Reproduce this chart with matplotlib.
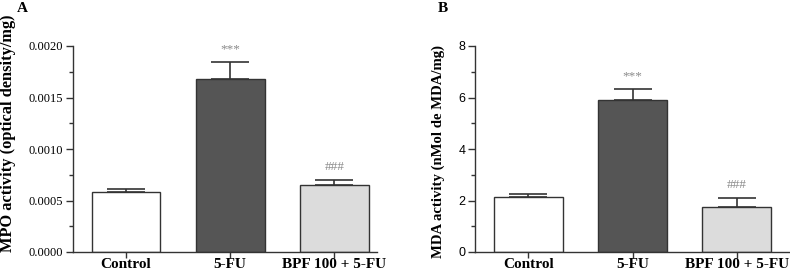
import numpy as np
import matplotlib
matplotlib.use("Agg")
import matplotlib.pyplot as plt
from matplotlib.ticker import MultipleLocator, FormatStrFormatter

# Datos
grupos = ["Control", "5-FU", "BPF 100 + 5-FU"]
mpo = [0.00058, 0.00168, 0.00065]
mpo_err = [0.00003, 0.00016, 0.00005]
mda = [2.12, 5.92, 1.75]
mda_err = [0.12, 0.40, 0.33]
marcas = ["", "***", "###"]

colores = ["#ffffff", "#555555", "#dcdcdc"]
borde = "#333333"
serif = "Liberation Serif"
sans = "Liberation Sans"

fig = plt.figure(figsize=(7.9, 2.74), dpi=100)
axA = fig.add_axes([73/790, 1-252/274, 304/790, 206/274])
axB = fig.add_axes([475/790, 1-252/274, 315/790, 206/274])

def panel(ax, vals, errs, ymax, major, minor, fmt, ylabel, tickfont, xright, labpos, labsize):
    x = np.arange(len(grupos))
    ax.bar(x, vals, width=0.66, color=colores, edgecolor=borde, linewidth=1.0, zorder=2)
    ax.errorbar(x, vals, yerr=[np.zeros(len(errs)), errs], fmt="none", ecolor=borde,
                elinewidth=1.2, capsize=13.5, capthick=1.2, zorder=1)
    # marcas de significancia encima de la barra de error
    for xi, v, e, m in zip(x, vals, errs, marcas):
        if m:
            ax.annotate(m, xy=(xi, v + e), xytext=(0, 9.5), textcoords="offset points",
                        ha="center", va="center", color="#8a8a8a", fontsize=9.5, family=serif)
    ax.set_xlim(-0.51, xright)
    ax.set_ylim(0, ymax)
    ax.yaxis.set_major_locator(MultipleLocator(major))
    ax.yaxis.set_minor_locator(MultipleLocator(minor))
    ax.yaxis.set_major_formatter(FormatStrFormatter(fmt))
    ax.set_xticks(x)
    ax.set_xticklabels(grupos, fontsize=11, fontweight="bold", family=serif)
    for lab in ax.get_yticklabels():
        lab.set_family(tickfont)
        lab.set_fontsize(9)
    ax.set_ylabel(ylabel, fontsize=labsize, fontweight="bold", family=serif, va="center")
    ax.yaxis.set_label_coords(*labpos)
    ax.spines["top"].set_visible(False)
    ax.spines["right"].set_visible(False)
    for s in ["left", "bottom"]:
        ax.spines[s].set_color(borde)
        ax.spines[s].set_linewidth(1.0)
    ax.tick_params(axis="both", which="both", direction="out", color=borde, width=1.0)
    ax.tick_params(axis="y", which="major", length=5, pad=2)
    ax.tick_params(axis="y", which="minor", length=3)
    ax.tick_params(axis="x", length=4, pad=0.5)

panel(axA, mpo, mpo_err, 0.0020, 0.0005, 0.00025, "%.4f",
      "MPO activity (optical density/mg)", serif, 2.41, (-0.213, 0.575), 11.8)
panel(axB, mda, mda_err, 8, 2, 1, "%d",
      "MDA activity (nMol de MDA/mg)", sans, 2.51, (-0.117, 0.49), 10.6)

fig.text(22/790, 1-8/274, "A", fontsize=11, fontweight="bold", family=serif, va="center", ha="center")
fig.text(443/790, 1-8/274, "B", fontsize=11, fontweight="bold", family=serif, va="center", ha="center")

fig.savefig("out.png", dpi=100)
